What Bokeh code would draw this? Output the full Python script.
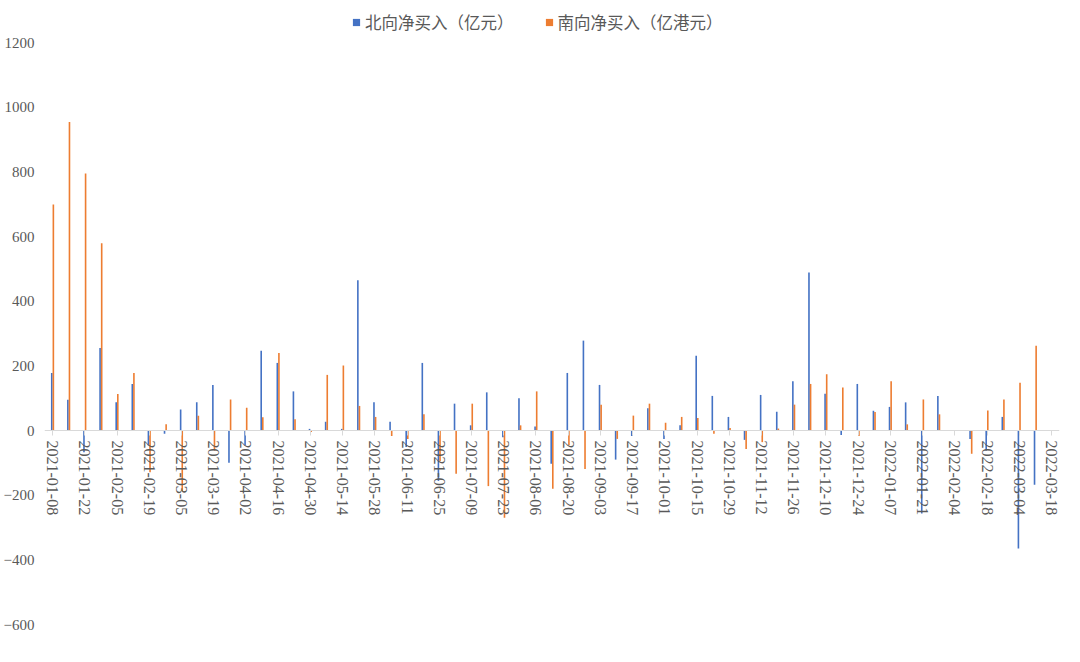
import pandas as pd
from bokeh.plotting import figure
from bokeh.models import ColumnDataSource, FixedTicker, Legend, LegendItem, Range1d
from bokeh.transform import dodge
from bokeh.embed import file_html
from bokeh.resources import INLINE

# weekly categories (Fridays)
weeks = [d.strftime("%Y-%m-%d") for d in pd.date_range("2021-01-08", periods=63, freq="7D")]

series_names = ["北向净买入（亿元）", "南向净买入（亿港元）"]

north = [178, 95, -67, 255, 87, 144, -46, -10, 65, 87,
         141, -100, -46, 247, 209, 121, 5, 27, 5, 465,
         87, 27, -51, 209, -156, 83, 16, 118, -21, 100,
         12, -103, 178, 278, 141, -90, -17, 69, -26, 16,
         231, 107, 42, -29, 110, 58, 152, 489, 114, -14,
         144, 61, 73, 87, -257, 107, 0, -26, -62, 42,
         -365, -168, 0]

south = [699, 954, 795, 579, 113, 178, -129, 19, -187, 46,
         -62, 96, 70, 41, 240, 35, -5, 172, 201, 76,
         42, -17, -26, 50, -95, -134, 83, -172, -270, 16,
         121, -180, -46, -119, 80, -26, 46, 83, 24, 42,
         39, -10, 8, -57, -36, 6, 80, 144, 174, 133,
         -17, 57, 152, 19, 96, 50, 0, -72, 62, 96,
         148, 262, 0]

y_ticks = [-600, -400, -200, 0, 200, 400, 600, 800, 1000, 1200]

BLUE = "#4472C4"
ORANGE = "#ED7D31"
GRAY = "#595959"
AXIS = "#D9D9D9"

idx = list(range(len(weeks)))
src = ColumnDataSource(dict(x=idx, north=north, south=south))

# frame extends up to hold the legend; 1200 still sits where the reference has it
px_per_unit = 582 / 1800.0
y_top = 1200 + 38 / px_per_unit

p = figure(width=1064, height=646, output_backend="svg", toolbar_location=None,
           x_range=Range1d(-0.5, len(weeks) - 0.5), y_range=Range1d(-600, y_top),
           min_border_left=34, min_border_right=5, min_border_top=4, min_border_bottom=22)

r1 = p.vbar(x=dodge("x", -0.05), top="north", width=0.1, source=src,
            fill_color=BLUE, line_color=None)
r2 = p.vbar(x=dodge("x", 0.05), top="south", width=0.1, source=src,
            fill_color=ORANGE, line_color=None)

# zero-size square markers: used only to give the legend square swatches
k1 = p.scatter(x="x", y="north", source=src, marker="square", size=0,
               fill_color=BLUE, line_color=None)
k2 = p.scatter(x="x", y="south", source=src, marker="square", size=0,
               fill_color=ORANGE, line_color=None)

p.grid.visible = False
p.outline_line_color = None
p.background_fill_color = "white"
p.border_fill_color = "white"

xa = p.xaxis[0]
xa.fixed_location = 0
xa.ticker = FixedTicker(ticks=idx[::2])
xa.major_label_overrides = {i: weeks[i] for i in idx[::2]}
xa.major_label_orientation = "vertical"
xa.axis_line_color = AXIS
xa.major_tick_line_color = AXIS
xa.major_tick_out = 5
xa.major_tick_in = 0
xa.minor_tick_line_color = None
xa.major_label_standoff = 5
xa.major_label_text_font = "Liberation Serif"
xa.major_label_text_font_size = "16px"
xa.major_label_text_color = GRAY

ya = p.yaxis[0]
ya.ticker = FixedTicker(ticks=y_ticks)
ya.axis_line_color = None
ya.major_tick_line_color = None
ya.minor_tick_line_color = None
ya.major_label_standoff = 4
ya.major_label_text_font = "Liberation Serif"
ya.major_label_text_font_size = "15px"
ya.major_label_text_color = GRAY

legend = Legend(items=[LegendItem(label=series_names[0], renderers=[k1]),
                       LegendItem(label=series_names[1], renderers=[k2])],
                orientation="horizontal", location=(303, 590),
                border_line_color=None, background_fill_alpha=0,
                label_text_font="Noto Sans CJK SC", label_text_font_size="16.5px",
                label_text_color=GRAY, glyph_width=18, glyph_height=18,
                label_height=20, label_standoff=0, spacing=26, padding=0, margin=0)
p.add_layout(legend)

open("out.html", "w").write(file_html(p, INLINE))
